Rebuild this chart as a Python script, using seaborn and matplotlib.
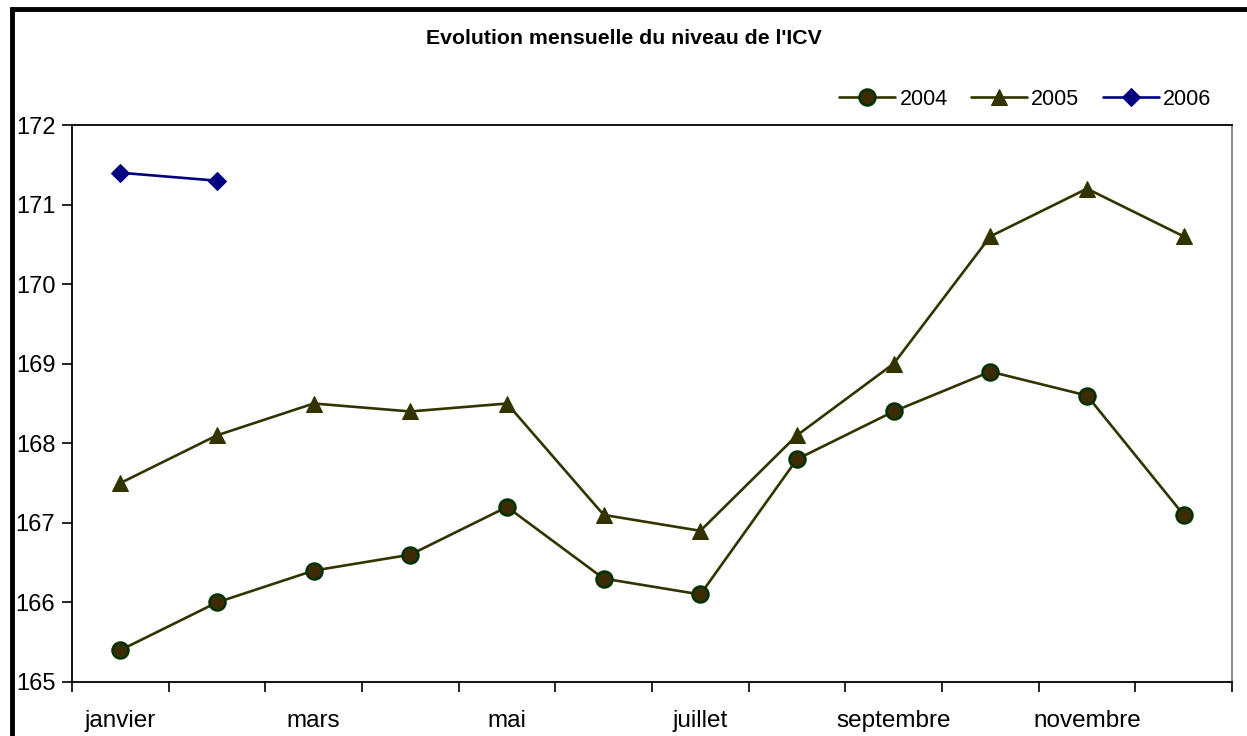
import matplotlib
matplotlib.use("Agg")
import matplotlib.pyplot as plt
import seaborn as sns
import pandas as pd
import numpy as np
from matplotlib.lines import Line2D

months = ["janvier", "février", "mars", "avril", "mai", "juin", "juillet",
          "août", "septembre", "octobre", "novembre", "décembre"]
icv_2004 = [165.4, 166.0, 166.4, 166.6, 167.2, 166.3, 166.1, 167.8, 168.4, 168.9, 168.6, 167.1]
icv_2005 = [167.5, 168.1, 168.5, 168.4, 168.5, 167.1, 166.9, 168.1, 169.0, 170.6, 171.2, 170.6]
icv_2006 = [171.4, 171.3]
title = "Evolution mensuelle du niveau de l'ICV"

sns.set_theme(style="white")
plt.rcParams['font.family'] = ['Liberation Sans', 'DejaVu Sans']
plt.rcParams['text.color'] = 'black'
plt.rcParams['xtick.color'] = 'black'
plt.rcParams['ytick.color'] = 'black'

fig = plt.figure(figsize=(12.47, 7.36), dpi=100)
ax = fig.add_axes([72/1247, 1-682/736, (1232-72)/1247, (682-125)/736])

df04 = pd.DataFrame({"x": np.arange(len(icv_2004)), "y": icv_2004})
df05 = pd.DataFrame({"x": np.arange(len(icv_2005)), "y": icv_2005})
df06 = pd.DataFrame({"x": np.arange(len(icv_2006)), "y": icv_2006})

sns.lineplot(data=df04, x="x", y="y", ax=ax, color="#333300", lw=1.9, marker="o",
             markersize=11.5, markerfacecolor="#3d2b05", markeredgecolor="#003300",
             markeredgewidth=1.8, label="2004")
sns.lineplot(data=df05, x="x", y="y", ax=ax, color="#333300", lw=1.9, marker="^",
             markersize=11.5, markerfacecolor="#333300", markeredgecolor="#333300",
             label="2005")
sns.lineplot(data=df06, x="x", y="y", ax=ax, color="#000080", lw=1.9, marker="D",
             markersize=9, markerfacecolor="#000080", markeredgecolor="#000080",
             label="2006")

ax.set_xlim(-0.5, 11.5)
ax.set_ylim(165, 172)
ax.set_xlabel("")
ax.set_ylabel("")

ax.set_yticks(range(165, 173))
ax.set_yticklabels([str(v) for v in range(165, 173)], fontsize=17)
ax.tick_params(axis="y", direction="out", length=7, width=1.2, color="black", pad=5, left=True)

ax.set_xticks(np.arange(-0.5, 12, 1.0))
ax.set_xticklabels([])
ax.tick_params(axis="x", which="major", direction="out", length=7, width=1.2, color="black", bottom=True)
ax.set_xticks(np.arange(0, 12, 2), minor=True)
ax.set_xticklabels(months[0::2], minor=True, fontsize=17.5)
ax.tick_params(axis="x", which="minor", length=0, pad=20)

for side in ["left", "bottom", "top"]:
    ax.spines[side].set_color("black")
    ax.spines[side].set_linewidth(1.3)
ax.spines["right"].set_color("#808080")
ax.spines["right"].set_linewidth(1.3)
ax.grid(False)

leg = ax.legend(loc="lower right", bbox_to_anchor=(0.995, 1.0), ncol=3, frameon=False,
                fontsize=15.5, handlelength=2.6, handletextpad=0.2, columnspacing=1.08,
                borderaxespad=0.3)

fig.text(0.5, 1-38/736, title, ha="center", va="center", fontsize=15.3, fontweight="bold")

# Thick frame (top and left edges visible)
fig.add_artist(Line2D([10/1247, 1.0], [1-9/736, 1-9/736], color="black", lw=3.5,
                      transform=fig.transFigure, solid_capstyle="butt"))
fig.add_artist(Line2D([12/1247, 12/1247], [0, 1-7/736], color="black", lw=3.5,
                      transform=fig.transFigure, solid_capstyle="butt"))

fig.savefig("out.png", dpi=100)
